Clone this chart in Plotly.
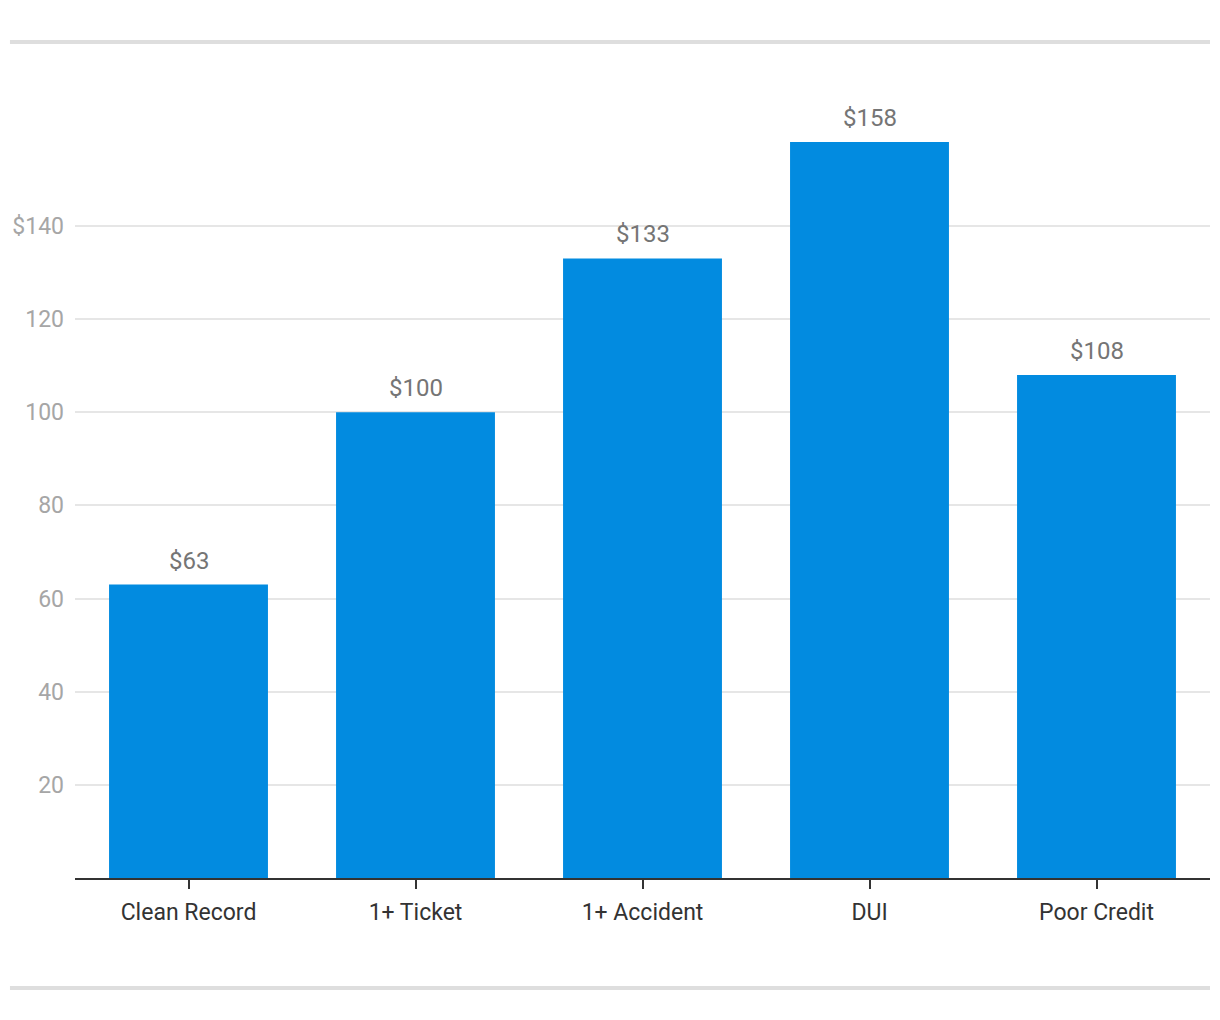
import plotly.graph_objects as go

# ── Données ──────────────────────────────────────────────────────────────────

CATEGORIES = ["Clean Record", "1+ Ticket", "1+ Accident", "DUI", "Poor Credit"]
PRIMES = [63, 100, 133, 158, 108]
Y_TICKS = [20, 40, 60, 80, 100, 120, 140]
Y_TICK_LABELS = ["20", "40", "60", "80", "100", "120", "$140"]

BLEU = "#028be0"

fig = go.Figure(go.Bar(
    x=CATEGORIES,
    y=PRIMES,
    marker=dict(color=BLEU, line=dict(width=0)),
    hoverinfo="skip",
))

# étiquettes de valeur au-dessus des barres
for cat, val in zip(CATEGORIES, PRIMES):
    fig.add_annotation(
        x=cat, y=val, text=f"${val}",
        showarrow=False, yanchor="bottom", yshift=8,
        font=dict(size=24, color="#757575"),
    )

fig.update_layout(
    width=1220,
    height=1020,
    font_family="Roboto, sans-serif",
    paper_bgcolor="white",
    plot_bgcolor="white",
    margin=dict(l=67, r=18, t=134, b=150),
    bargap=0.3,
    showlegend=False,
)

fig.update_xaxes(
    showline=True, linecolor="#333333", linewidth=2,
    ticks="outside", ticklen=9, tickwidth=2, tickcolor="#333333",
    tickfont=dict(size=23, color="#333333"),
    ticklabelstandoff=3,
    showgrid=False, automargin=False,
)
fig.update_yaxes(
    range=[0, 158],
    tickvals=Y_TICKS, ticktext=Y_TICK_LABELS,
    tickfont=dict(size=23, color="#a6a6a6"),
    gridcolor="#e6e6e6", gridwidth=1.5,
    zeroline=False, showline=False,
    ticks="", ticklabelstandoff=10, automargin=False,
)

# Filets gris haut et bas
for y in (1.1359, -0.1495):
    fig.add_shape(
        type="line", xref="paper", yref="paper",
        x0=-0.0573, x1=1.0, y0=y, y1=y,
        line=dict(color="#dedede", width=4),
    )

fig.write_html("out.html")
